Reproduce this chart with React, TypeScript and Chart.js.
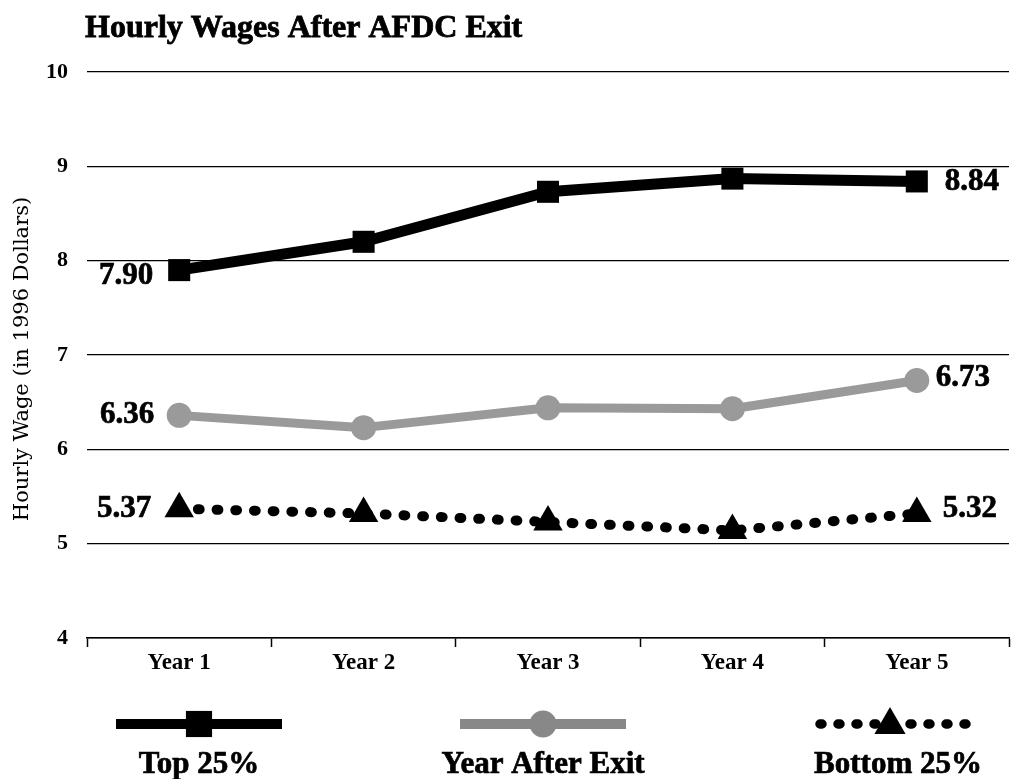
import React, { useEffect, useRef } from "react";
import { Chart, registerables } from "chart.js";

Chart.register(...registerables);

// ---------- data ----------
const categories = ["Year 1", "Year 2", "Year 3", "Year 4", "Year 5"];
const top25 = [7.9, 8.2, 8.73, 8.87, 8.84];
const yearAfterExit = [6.36, 6.23, 6.44, 6.43, 6.73];
const bottom25 = [5.37, 5.32, 5.23, 5.14, 5.32];
const seriesNames = ["Top 25%", "Year After Exit", "Bottom 25%"];
const yTickValues = [4, 5, 6, 7, 8, 9, 10];
const titleText = "Hourly Wages After AFDC Exit";
const yAxisTitle = "Hourly Wage (in 1996 Dollars)";

// ---------- styles ----------
const SERIF = "'Liberation Serif', 'Times New Roman', serif";
const GRAY = "#9a9a9a";
const LEGEND_GRAY = "#888888";

type MarkerStyle = "rect" | "circle" | "triangle";

const seriesStyles = [
  { color: "#000000", width: 11, dash: [] as number[], cap: "butt", marker: "rect" as MarkerStyle, radius: 15.6 },
  { color: GRAY, width: 9, dash: [] as number[], cap: "butt", marker: "circle" as MarkerStyle, radius: 12.5 },
  { color: "#000000", width: 10, dash: [1.8, 16.9], cap: "round", marker: "triangle" as MarkerStyle, radius: 17 },
];

// end-label placement per series: [first {dx,dy}, last {dx,dy}]
const endLabelOffsets = [
  [{ dx: -26, dy: 6 }, { dx: 28, dy: 1 }],
  [{ dx: -25, dy: 0 }, { dx: 19, dy: -2 }],
  [{ dx: -28, dy: 0 }, { dx: 26, dy: -4 }],
];

const legendCenters = [199, 543, 898];

function drawMarker(ctx: CanvasRenderingContext2D, style: MarkerStyle, x: number, y: number, r: number) {
  ctx.beginPath();
  if (style === "rect") {
    const s = r * Math.SQRT1_2;
    ctx.rect(x - s, y - s, 2 * s, 2 * s);
  } else if (style === "circle") {
    ctx.arc(x, y, r, 0, Math.PI * 2);
  } else {
    for (let i = 0; i < 3; i++) {
      const a = (i * 2 * Math.PI) / 3;
      const px = x + Math.sin(a) * r;
      const py = y - Math.cos(a) * r;
      if (i === 0) ctx.moveTo(px, py);
      else ctx.lineTo(px, py);
    }
    ctx.closePath();
  }
  ctx.fill();
}

function heavyText(ctx: CanvasRenderingContext2D, text: string, x: number, y: number, w = 0.7) {
  ctx.fillText(text, x, y);
  ctx.lineWidth = w;
  ctx.strokeStyle = ctx.fillStyle as string;
  ctx.strokeText(text, x, y);
}

const overlayPlugin = {
  id: "overlay",
  afterDatasetsDraw(chart: any) {
    const ctx: CanvasRenderingContext2D = chart.ctx;
    ctx.save();
    ctx.fillStyle = "#000";
    ctx.font = `bold 31px ${SERIF}`;
    ctx.textBaseline = "middle";
    chart.data.datasets.forEach((ds: any, di: number) => {
      const meta = chart.getDatasetMeta(di);
      const n = ds.data.length;
      const first = meta.data[0];
      const last = meta.data[n - 1];
      const [o1, o2] = endLabelOffsets[di];
      ctx.textAlign = "right";
      heavyText(ctx, Number(ds.data[0]).toFixed(2), first.x + o1.dx, first.y + o1.dy);
      ctx.textAlign = "left";
      heavyText(ctx, Number(ds.data[n - 1]).toFixed(2), last.x + o2.dx, last.y + o2.dy);
    });
    ctx.restore();
  },
  afterDraw(chart: any) {
    const ctx: CanvasRenderingContext2D = chart.ctx;
    ctx.save();
    // title
    ctx.fillStyle = "#000";
    ctx.font = `bold 32px ${SERIF}`;
    ctx.textAlign = "left";
    ctx.textBaseline = "alphabetic";
    heavyText(ctx, titleText, 85, 37, 0.8);

    // y-axis title
    ctx.save();
    ctx.translate(23, 359);
    ctx.rotate(-Math.PI / 2);
    ctx.font = `21px 'DejaVu Serif', serif`;
    ctx.textAlign = "center";
    ctx.textBaseline = "middle";
    ctx.fillText(yAxisTitle, 0, 0);
    ctx.restore();

    // legend
    const sy = 724;
    const half = 83;
    seriesNames.forEach((name, i) => {
      const cx = legendCenters[i];
      const st = seriesStyles[i];
      const color = i === 1 ? LEGEND_GRAY : st.color;
      ctx.save();
      ctx.strokeStyle = color;
      ctx.fillStyle = color;
      if (st.marker === "triangle") {
        ctx.lineWidth = 9.5;
        ctx.lineCap = "round";
        ctx.setLineDash([2, 16]);
        ctx.beginPath();
        ctx.moveTo(cx - half + 5, sy);
        ctx.lineTo(cx + half, sy);
        ctx.stroke();
        ctx.setLineDash([]);
        drawMarker(ctx, "triangle", cx - 8, sy + 1, 18);
      } else {
        ctx.lineWidth = 10;
        ctx.lineCap = "butt";
        ctx.beginPath();
        ctx.moveTo(cx - half, sy);
        ctx.lineTo(cx + half, sy);
        ctx.stroke();
        drawMarker(ctx, st.marker, cx, sy, st.marker === "rect" ? 18.5 : 13.5);
      }
      ctx.restore();
      ctx.fillStyle = "#000";
      ctx.font = `bold 31px ${SERIF}`;
      ctx.textAlign = "center";
      ctx.textBaseline = "alphabetic";
      heavyText(ctx, name, cx, 773);
    });
    ctx.restore();
  },
};

export default function App() {
  const canvasRef = useRef<HTMLCanvasElement | null>(null);

  useEffect(() => {
    document.body.style.margin = "0";
    const canvas = canvasRef.current;
    if (!canvas) return;
    const seriesData = [top25, yearAfterExit, bottom25];
    const chart = new Chart(canvas, {
      type: "line",
      data: {
        labels: categories,
        datasets: seriesData.map((d, i) => {
          const st = seriesStyles[i];
          return {
            label: seriesNames[i],
            data: d,
            borderColor: st.color,
            backgroundColor: st.color,
            borderWidth: st.width,
            borderDash: st.dash,
            borderCapStyle: st.cap as CanvasLineCap,
            borderJoinStyle: "round" as CanvasLineJoin,
            pointStyle: st.marker,
            pointRadius: st.radius,
            pointHoverRadius: st.radius,
            pointBackgroundColor: st.color,
            pointBorderWidth: 0,
            tension: 0,
            fill: false,
            clip: false,
          };
        }),
      },
      options: {
        responsive: false,
        animation: false,
        events: [],
        layout: { autoPadding: false, padding: { top: 72, right: 12, left: 0, bottom: 101 } },
        plugins: {
          legend: { display: false },
          title: { display: false },
          tooltip: { enabled: false },
        },
        scales: {
          x: {
            type: "category",
            offset: true,
            grid: {
              offset: true,
              drawOnChartArea: false,
              drawTicks: true,
              tickLength: 9,
              tickWidth: 1.5,
              tickColor: "#000",
            },
            border: { display: true, color: "#000", width: 1.5 },
            ticks: {
              color: "#000",
              font: { family: SERIF, size: 23, weight: "bold" },
              padding: 2,
              maxRotation: 0,
              autoSkip: false,
            },
            afterFit: (s: any) => {
              s.height = 40;
            },
          },
          y: {
            min: 4,
            max: 10,
            afterBuildTicks: (s: any) => {
              s.ticks = yTickValues.map((v) => ({ value: v }));
            },
            grid: { color: "#000", lineWidth: 1.2, drawTicks: false },
            border: { display: false },
            ticks: {
              color: "#000",
              font: { family: SERIF, size: 22, weight: "bold" },
              padding: 19,
            },
            afterFit: (s: any) => {
              s.width = 87;
            },
          },
        },
      },
      plugins: [overlayPlugin],
    });
    return () => chart.destroy();
  }, []);

  return (
    <div style={{ width: 1021, height: 779 }}>
      <canvas ref={canvasRef} width={1021} height={779} style={{ display: "block" }} />
    </div>
  );
}
